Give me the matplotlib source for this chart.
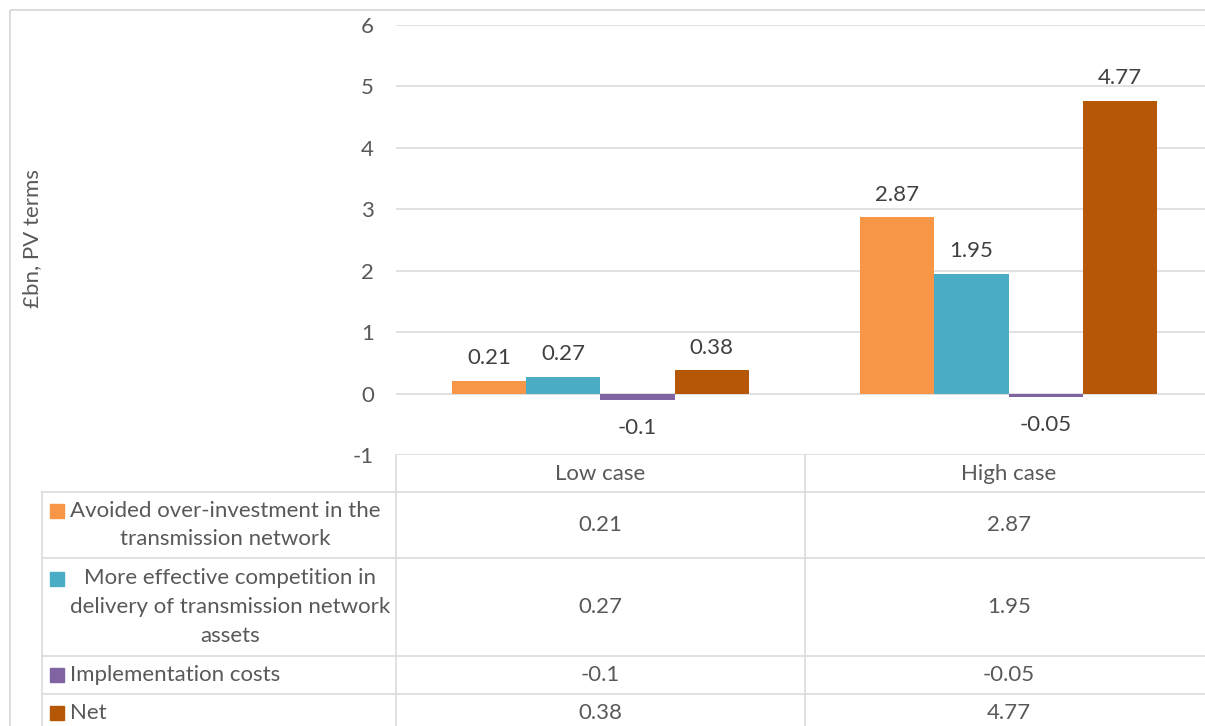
import matplotlib.pyplot as plt
from matplotlib.patches import Rectangle
from matplotlib.lines import Line2D
from matplotlib.transforms import blended_transform_factory

cases = ["Low case", "High case"]
series = [
    "Avoided over-investment in the\ntransmission network",
    "More effective competition in\ndelivery of transmission network\nassets",
    "Implementation costs",
    "Net",
]
avoided = [0.21, 2.87]
competition = [0.27, 1.95]
implementation = [-0.1, -0.05]
net = [0.38, 4.77]
values = [avoided, competition, implementation, net]
colors = ["#F79646", "#4BACC6", "#8064A2", "#B65708"]

plt.rcParams["font.family"] = ["Lato", "DejaVu Sans"]
plt.rcParams["axes.unicode_minus"] = False
TXT = "#595959"
GRID = "#d9d9d9"
FS = 16

W, H = 1205, 726
fig = plt.figure(figsize=(W / 100, H / 100), dpi=100)


def fx(p):
    return p / W


def fy(p):
    return 1 - p / H


# overlay axes in pixel coordinates (y down) for border + table
tax = fig.add_axes([0, 0, 1, 1], zorder=0)
tax.set_xlim(0, W)
tax.set_ylim(H, 0)
tax.axis("off")

ax = fig.add_axes([fx(396), fy(455), fx(1213) - fx(396), fy(25) - fy(455)], zorder=1)
ax.patch.set_alpha(0)

n = len(values)
bw = 1 / (n + 1.5)
x = list(range(len(cases)))
for i, (vals, col) in enumerate(zip(values, colors)):
    offs = [xi + (i - (n - 1) / 2) * bw for xi in x]
    ax.bar(offs, vals, width=bw, color=col, zorder=3)
    for xo, v in zip(offs, vals):
        if v >= 0:
            ax.annotate(f"{v:g}", (xo, v), xytext=(0, 9), textcoords="offset points",
                        ha="center", va="bottom", fontsize=FS, color="#404040")
        else:
            ax.annotate(f"{v:g}", (xo, v), xytext=(0, -13), textcoords="offset points",
                        ha="center", va="top", fontsize=FS, color="#404040")

ax.set_xlim(-0.5, len(cases) - 0.5)
ax.set_ylim(-1, 6)
ax.set_yticks(range(-1, 7))
ax.yaxis.grid(True, color=GRID, linewidth=1.1, zorder=0)
ax.set_xticks([])
ax.tick_params(axis="y", length=0, pad=16, labelsize=FS, labelcolor=TXT)
for s in ax.spines.values():
    s.set_visible(False)

fig.text(fx(32), fy(238), "£bn, PV terms", rotation=90, ha="center", va="center",
         fontsize=FS, color=TXT)

# outer chart border
tax.add_patch(Rectangle((10, 10), W + 20, H + 20, fill=False, edgecolor=GRID, linewidth=1.3))

# data table
bt = blended_transform_factory(ax.transData, tax.transData)
row_edges = [455, 492, 558, 656, 694, 732]
col_edges = [i - 0.5 for i in range(len(cases) + 1)]
leg_left = 42

for ce in col_edges:
    tax.add_line(Line2D([ce, ce], [row_edges[0], H + 10], transform=bt, color=GRID, lw=1.1))
tax.add_line(Line2D([leg_left, leg_left], [row_edges[1], H + 10], color=GRID, lw=1.1))
for re in row_edges[1:]:
    tax.add_line(Line2D([leg_left, 396], [re, re], color=GRID, lw=1.1))
    tax.add_line(Line2D([col_edges[0], col_edges[-1]], [re, re], transform=bt, color=GRID, lw=1.1))

hy = (row_edges[0] + row_edges[1]) / 2
for xi, c in zip(x, cases):
    tax.text(xi, hy, c, transform=bt, ha="center", va="center", fontsize=FS, color=TXT)

line_h = 28.5
for r, (name, vals, col) in enumerate(zip(series, values, colors)):
    yc = (row_edges[r + 1] + row_edges[r + 2]) / 2
    nl = name.count("\n") + 1
    first = yc - (nl - 1) / 2 * line_h
    tax.add_patch(Rectangle((50, first - 7), 14, 14, color=col))
    tax.text(70, yc, name, ha="left", va="center", multialignment="center",
             fontsize=FS, color=TXT, linespacing=1.55)
    for xi, v in zip(x, vals):
        tax.text(xi, yc, f"{v:g}", transform=bt, ha="center", va="center",
                 fontsize=FS, color=TXT)

fig.savefig("out.png", dpi=100)
